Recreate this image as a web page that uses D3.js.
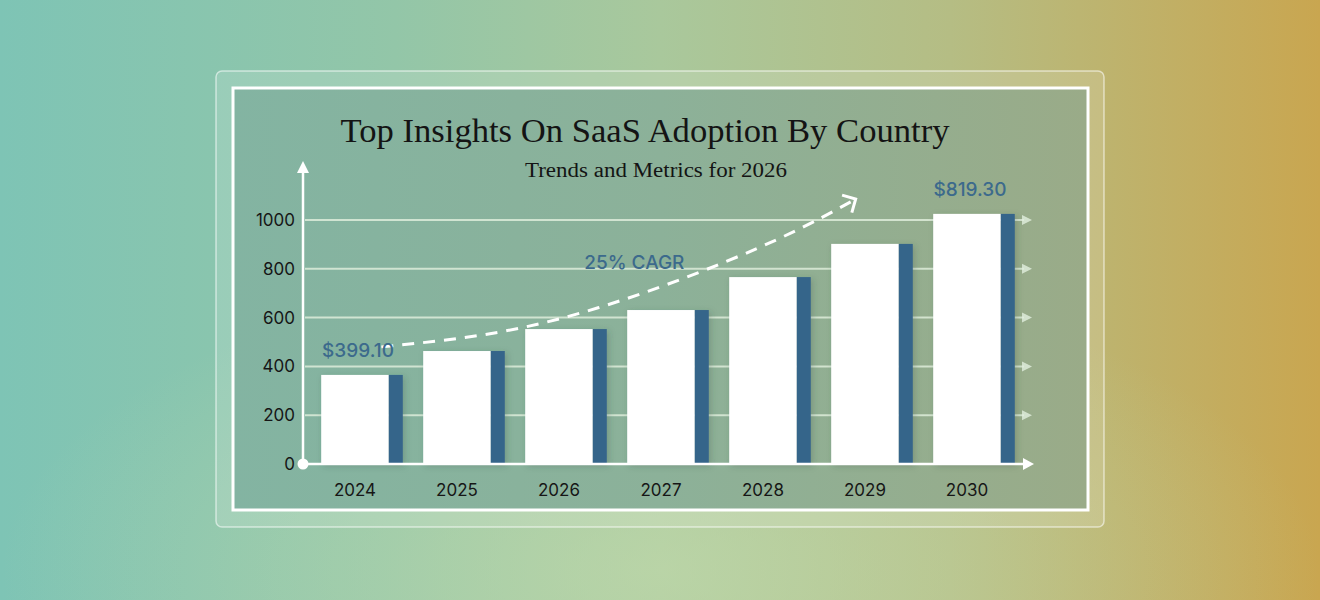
<!DOCTYPE html>
<html>
<head>
<meta charset="utf-8">
<script src="https://cdn.jsdelivr.net/npm/d3@7"></script>
<style>
  html, body { margin: 0; padding: 0; background: #9fc6a4; }
  svg { display: block; }
</style>
</head>
<body>
<div id="content"></div>
<script>
// chart data
let years = ["2024", "2025", "2026", "2027", "2028", "2029", "2030"];
let values = [365, 463, 553, 631, 766, 902, 1025];
let yTicks = [0, 200, 400, 600, 800, 1000];
let callouts = [
    { year: "2024", text: "$399.10" },
    { year: "2030", text: "$819.30" }
];
let cagrText = "25% CAGR";
// dashed trend line: [band units from first bar, value]
let cagrPath = [
    [0.59, 480], [1.95, 557], [3.32, 725], [4.50, 926], [5.24, 1086]
];

let width = 1320;
let height = 600;

let svg = d3.select("#content")
    .append("svg")
    .attr("width", width)
    .attr("height", height);

let defs = svg.append("defs");

//background gradient
let bg = defs.append("linearGradient")
    .attr("id", "bg")
    .attr("x1", "0").attr("x2", "1").attr("y1", "0").attr("y2", "0");
[["0%", "#7ec4b5"], ["30%", "#93c6a8"], ["50%", "#a9c89c"], ["72%", "#b5bd84"], ["100%", "#c9a650"]]
    .forEach((s) => bg.append("stop").attr("offset", s[0]).attr("stop-color", s[1]));

let glow = defs.append("radialGradient")
    .attr("id", "glow")
    .attr("cx", "0.5").attr("cy", "0.95").attr("r", "0.5");
glow.append("stop").attr("offset", "0%").attr("stop-color", "#c4dcae").attr("stop-opacity", 0.6);
glow.append("stop").attr("offset", "100%").attr("stop-color", "#c4dcae").attr("stop-opacity", 0);

let panel = defs.append("linearGradient")
    .attr("id", "panel")
    .attr("x1", "0").attr("x2", "1").attr("y1", "0").attr("y2", "0");
[["0%", "#83b4a2"], ["50%", "#8cb199"], ["100%", "#9aab88"]]
    .forEach((s) => panel.append("stop").attr("offset", s[0]).attr("stop-color", s[1]));

let shadow = defs.append("filter")
    .attr("id", "shadow")
    .attr("x", "-20%").attr("y", "-20%").attr("width", "140%").attr("height", "140%");
shadow.append("feDropShadow")
    .attr("dx", 2).attr("dy", 2).attr("stdDeviation", 3)
    .attr("flood-color", "#2d4a40").attr("flood-opacity", 0.25);

defs.append("marker")
    .attr("id", "chevron")
    .attr("markerUnits", "userSpaceOnUse")
    .attr("viewBox", "-12 -12 14 24")
    .attr("markerWidth", 14).attr("markerHeight", 24)
    .attr("refX", 0).attr("refY", 0)
    .attr("orient", "auto")
    .append("path")
    .attr("d", "M-10,-10L0,0L-10,10")
    .attr("fill", "none")
    .attr("stroke", "#ffffff")
    .attr("stroke-width", 3);

svg.append("rect").attr("width", width).attr("height", height).attr("fill", "url(#bg)");
svg.append("rect").attr("width", width).attr("height", height).attr("fill", "url(#glow)");

//card frame
svg.append("rect")
    .attr("x", 216).attr("y", 71).attr("width", 888).attr("height", 456).attr("rx", 6)
    .attr("fill", "rgba(255,255,255,0.14)")
    .attr("stroke", "rgba(255,255,255,0.55)")
    .attr("stroke-width", 1.5);

svg.append("rect")
    .attr("x", 233).attr("y", 88).attr("width", 855).attr("height", 422)
    .attr("fill", "url(#panel)")
    .attr("stroke", "#ffffff")
    .attr("stroke-width", 3);

//titles
svg.append("text")
    .attr("x", 645).attr("y", 142)
    .attr("text-anchor", "middle")
    .attr("font-family", "Liberation Serif, serif")
    .attr("font-size", 34)
    .attr("fill", "#141414")
    .attr("textLength", 609)
    .attr("lengthAdjust", "spacingAndGlyphs")
    .text("Top Insights On SaaS Adoption By Country");

svg.append("text")
    .attr("x", 656).attr("y", 177)
    .attr("text-anchor", "middle")
    .attr("font-family", "Liberation Serif, serif")
    .attr("font-size", 20)
    .attr("fill", "#141414")
    .attr("textLength", 262)
    .attr("lengthAdjust", "spacingAndGlyphs")
    .text("Trends and Metrics for 2026");

//scales
let x = d3.scaleBand()
    .domain(years)
    .range([311, 1025])
    .paddingInner(0.2)
    .paddingOuter(0.1);

let y = d3.scaleLinear()
    .domain([0, 1000])
    .range([464, 220]);

let edge = 14;
let ux = (u) => x(years[0]) + u * x.step();

//grid
let gridColor = "rgba(226,240,222,0.8)";
let grid = svg.append("g").attr("id", "grid");
grid.selectAll("line")
    .data(yTicks.filter((t) => t > 0))
    .enter().append("line")
    .attr("x1", 305).attr("x2", 1024)
    .attr("y1", (d) => y(d)).attr("y2", (d) => y(d))
    .attr("stroke", gridColor)
    .attr("stroke-width", 2);
grid.selectAll("path")
    .data(yTicks.filter((t) => t > 0))
    .enter().append("path")
    .attr("d", (d) => "M1022," + (y(d) - 5) + "L1032," + y(d) + "L1022," + (y(d) + 5) + "Z")
    .attr("fill", gridColor);

//y labels
svg.append("g")
    .selectAll("text")
    .data(yTicks)
    .enter().append("text")
    .attr("x", 295)
    .attr("y", (d) => y(d) + 6)
    .attr("text-anchor", "end")
    .attr("font-family", "Inter, sans-serif")
    .attr("font-size", 17)
    .attr("fill", "#161616")
    .text((d) => d);

//bars
let bars = svg.append("g")
    .selectAll("g")
    .data(years.map((v, i) => ({ year: v, value: values[i] })))
    .enter().append("g")
    .attr("filter", "url(#shadow)");

bars.append("rect")
    .attr("x", (d) => x(d.year))
    .attr("y", (d) => y(d.value))
    .attr("width", x.bandwidth() - edge)
    .attr("height", (d) => y(0) - y(d.value))
    .attr("fill", "#ffffff");

bars.append("rect")
    .attr("x", (d) => x(d.year) + x.bandwidth() - edge)
    .attr("y", (d) => y(d.value))
    .attr("width", edge)
    .attr("height", (d) => y(0) - y(d.value))
    .attr("fill", "#36658a");

//x labels
svg.append("g")
    .selectAll("text")
    .data(years)
    .enter().append("text")
    .attr("x", (d) => x(d) + (x.bandwidth() - edge) / 2)
    .attr("y", 496)
    .attr("text-anchor", "middle")
    .attr("font-family", "Inter, sans-serif")
    .attr("font-size", 17)
    .attr("fill", "#161616")
    .text((d) => d);

//axes
svg.append("line")
    .attr("x1", 303).attr("x2", 1026)
    .attr("y1", y(0)).attr("y2", y(0))
    .attr("stroke", "#ffffff").attr("stroke-width", 2.5);
svg.append("path")
    .attr("d", "M1023," + (y(0) - 6) + "L1034," + y(0) + "L1023," + (y(0) + 6) + "Z")
    .attr("fill", "#ffffff");
svg.append("line")
    .attr("x1", 303).attr("x2", 303)
    .attr("y1", y(0)).attr("y2", 170)
    .attr("stroke", "#ffffff").attr("stroke-width", 2.5);
svg.append("path")
    .attr("d", "M297,173L303,161L309,173Z")
    .attr("fill", "#ffffff");
svg.append("circle")
    .attr("cx", 303).attr("cy", y(0)).attr("r", 5.5)
    .attr("fill", "#ffffff");

//trend line
let line = d3.line()
    .x((d) => ux(d[0]))
    .y((d) => y(d[1]))
    .curve(d3.curveNatural);

svg.append("path")
    .attr("d", line(cagrPath))
    .attr("fill", "none")
    .attr("stroke", "#ffffff")
    .attr("stroke-width", 3)
    .attr("stroke-dasharray", "12,9")
    .attr("marker-end", "url(#chevron)");

svg.append("text")
    .attr("x", ux(3.07))
    .attr("y", y(800))
    .attr("text-anchor", "middle")
    .attr("font-family", "Inter, sans-serif")
    .attr("font-weight", 500)
    .attr("font-size", 19)
    .attr("fill", "#3c6a8c")
    .text(cagrText);

//callouts
svg.append("g")
    .selectAll("text")
    .data(callouts)
    .enter().append("text")
    .attr("x", (d) => x(d.year) + x.bandwidth() / 2 - 4)
    .attr("y", (d) => y(values[years.indexOf(d.year)]) - 18)
    .attr("text-anchor", "middle")
    .attr("font-family", "Inter, sans-serif")
    .attr("font-weight", 500)
    .attr("font-size", 19)
    .attr("fill", "#3c6a8c")
    .text((d) => d.text);
</script>
</body>
</html>
